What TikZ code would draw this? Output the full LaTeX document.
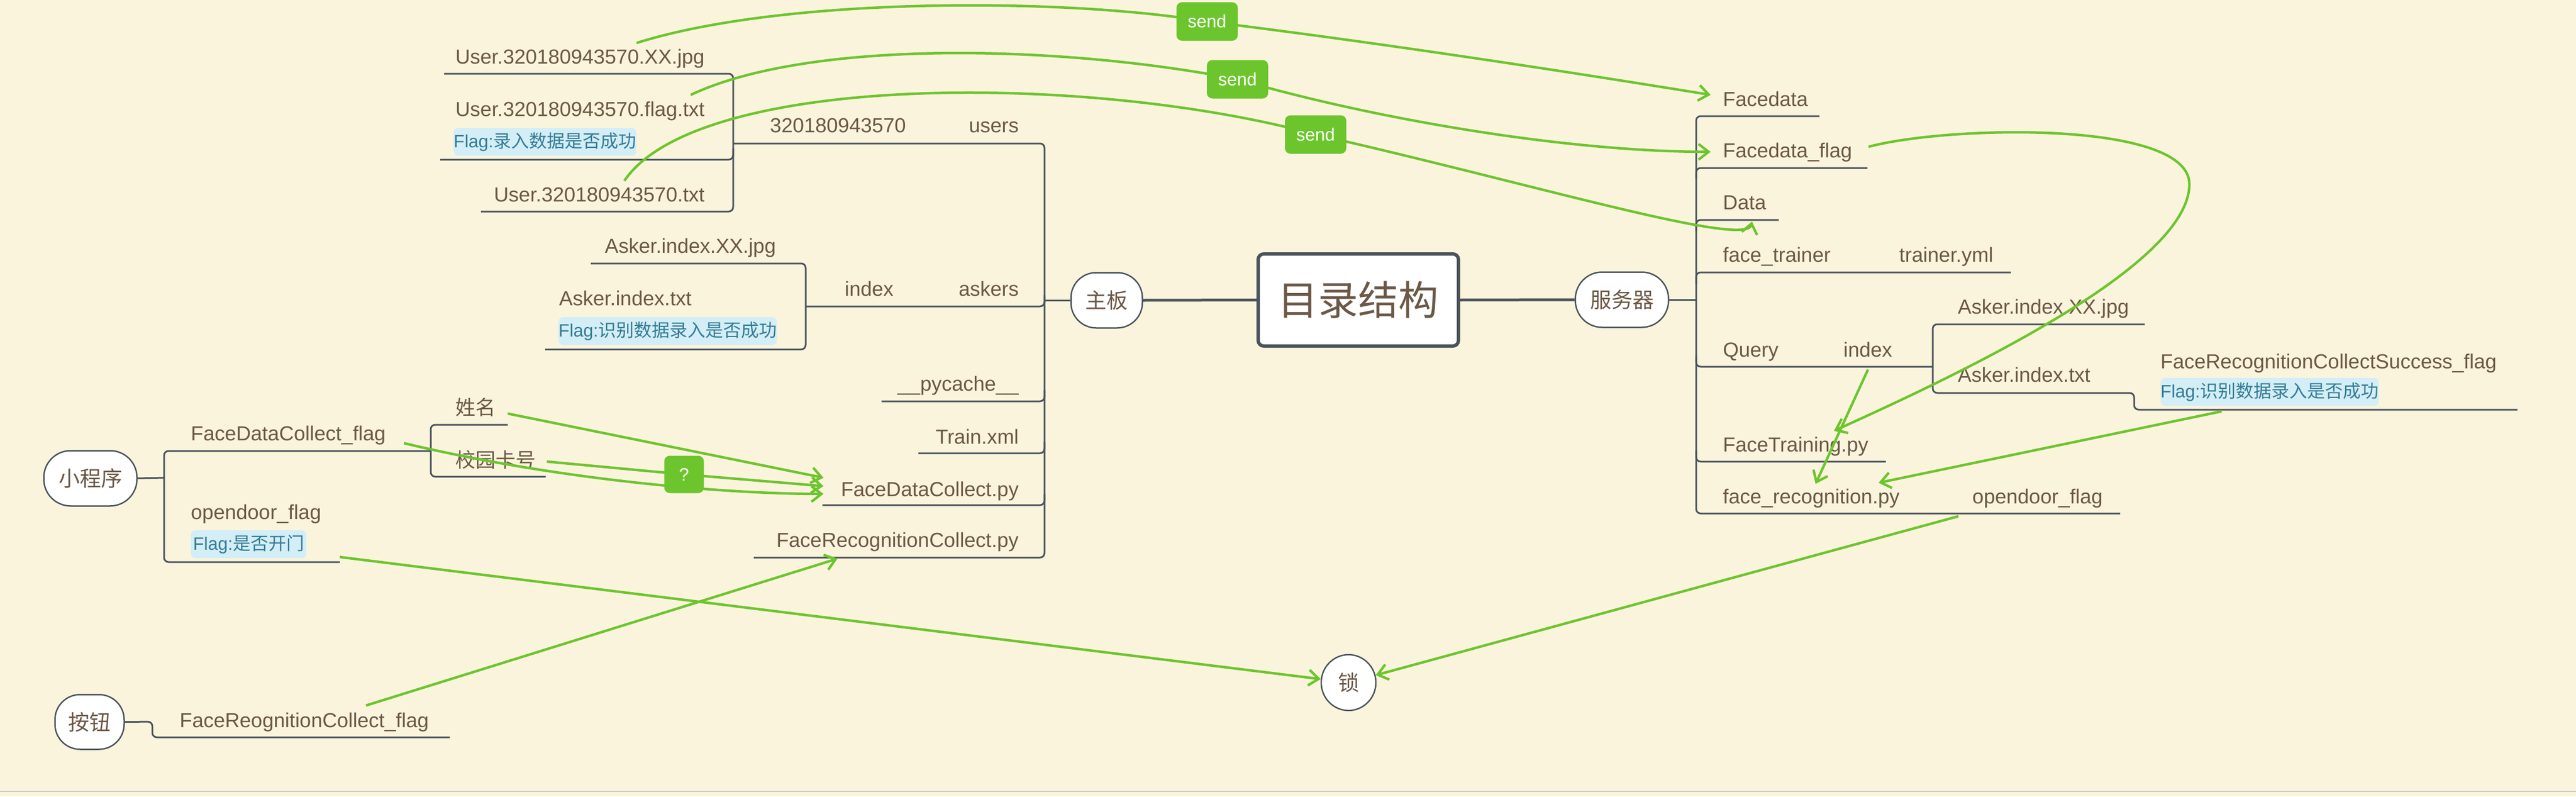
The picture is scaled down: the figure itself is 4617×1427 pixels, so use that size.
\documentclass[tikz,border=0pt]{standalone}
\usepackage{fontspec}
\setmainfont{Liberation Sans}
\newfontfamily\cjk{Noto Sans CJK SC}
\usetikzlibrary{arrows.meta,shapes.geometric}
\definecolor{bgc}{HTML}{FBF4DD}
\definecolor{txtc}{HTML}{6B5846}
\definecolor{lnc}{HTML}{4A535C}
\definecolor{grnc}{HTML}{6DC52E}
\definecolor{flagbgc}{HTML}{D3EEF6}
\definecolor{flagtxc}{HTML}{357C95}
\begin{document}
\begin{tikzpicture}[x=1pt,y=-1pt,
  lbl/.style={inner sep=0pt, text=txtc, font=\fontsize{36.5}{40}\selectfont},
  lw/.style={lbl, anchor=base west},
  le/.style={lbl, anchor=base east},
  flagbox/.style={anchor=north west, fill=flagbgc, text=flagtxc, rounded corners=8pt, inner sep=0pt, minimum height=50pt, font=\fontsize{32}{35}\selectfont},
  tree/.style={draw=lnc, line width=3pt, rounded corners=8pt},
  thickln/.style={draw=lnc, line width=5pt},
  rel/.style={draw=grnc, line width=4.5pt, -{Straight Barb[length=18pt,width=28pt]}},
  relbox/.style={fill=grnc, text=white, rounded corners=10pt, font=\fontsize{32}{36}\selectfont, minimum width=110pt, minimum height=69pt, inner sep=0pt},
  pill/.style={draw=lnc, line width=2.5pt, fill=white, text=txtc, font=\cjk\fontsize{38}{42}\selectfont, inner sep=0pt},
  rootbox/.style={draw=lnc, line width=6pt, fill=white, rounded corners=10pt, minimum width=359pt, minimum height=165pt, text=txtc, font=\cjk\fontsize{72}{80}\selectfont, inner sep=0pt}
]
\useasboundingbox (0,0) rectangle (4617,1427);
\fill[bgc] (0,0) rectangle (4617,1427);
\draw[black!22, line width=2pt] (0,1418) -- (4617,1418);

% main nodes
\node[rootbox] (root) at (2434.5,537.5) {目录结构};
\node[pill, minimum width=128pt, minimum height=99pt, rounded corners=45pt] (zb) at (1983.5,538) {主板};
\node[pill, minimum width=167pt, minimum height=99pt, rounded corners=48pt] (fwq) at (2907,537) {服务器};
\node[pill, minimum width=167pt, minimum height=99pt, rounded corners=48pt] (xcx) at (162,857) {小程序};
\node[pill, minimum width=124pt, minimum height=98pt, rounded corners=45pt] (an) at (160.5,1293.5) {按钮};
\node[pill, ellipse, minimum width=98pt, minimum height=100pt] (suo) at (2417,1223) {锁};

\draw[thickln] (zb.east) -- (root.west);
\draw[thickln] (root.east) -- (fwq.west);

% tree lines: zhuban side
\draw[tree] (zb.west) -- (1872,538);
\draw[tree] (1314,257) -- (1872,257) -- (1872,999) -- (1351,999);
\draw[tree] (1444,549) -- (1872,549) -- (1872,529);
\draw[tree] (1580,719) -- (1872,719) -- (1872,699);
\draw[tree] (1646,812) -- (1872,812) -- (1872,792);
\draw[tree] (1474,905) -- (1872,905) -- (1872,885);
\draw[tree] (796,132) -- (1314,132) -- (1314,379) -- (862,379);
\draw[tree] (789,286) -- (1314,286) -- (1314,266);
\draw[tree] (1059,472) -- (1444,472) -- (1444,626) -- (977,626);
% server side
\draw[tree] (fwq.east) -- (3040,537);
\draw[tree] (3261,208) -- (3040,208) -- (3040,920) -- (3800,920);
\draw[tree] (3347,301) -- (3040,301) -- (3040,321);
\draw[tree] (3188,394) -- (3040,394) -- (3040,414);
\draw[tree] (3604,488) -- (3040,488) -- (3040,508);
\draw[tree] (3464,657) -- (3040,657) -- (3040,637);
\draw[tree] (3380,827) -- (3040,827) -- (3040,807);
\draw[tree] (3844,581) -- (3464,581) -- (3464,704) -- (3825,704) -- (3825,734) -- (4512,734);
% xiaochengxu
\draw[tree] (xcx.east) -- (294,856);
\draw[tree] (772,808) -- (294,808) -- (294,1007) -- (609,1007);
\draw[tree] (910,761) -- (772,761) -- (772,854) -- (978,854);
% anniu
\draw[tree] (an.east) -- (273,1293) -- (273,1321) -- (806,1321);

% texts left (zhuban)
\node[le] (ujpg) at (1263,114) {User.320180943570.XX.jpg};
\node[le] (uflag) at (1263,208) {User.320180943570.flag.txt};
\node[flagbox, minimum width=325pt] (uflagnote) at (813,229) {Flag:{\cjk 录入数据是否成功}};
\node[le] (utxt) at (1263,361) {User.320180943570.txt};
\node[lw] (uid) at (1380,237) {320180943570};
\node[le] (users) at (1826,237) {users};
\node[lw] (ajpg) at (1084,453) {Asker.index.XX.jpg};
\node[lw] (atxt) at (1002,547) {Asker.index.txt};
\node[flagbox, minimum width=387pt] (atxtnote) at (1001,568) {Flag:{\cjk 识别数据录入是否成功}};
\node[lw] (aidx) at (1514,530) {index};
\node[le] (askers) at (1826,530) {askers};
\node[le] (pyc) at (1826,700) {\_\_pycache\_\_};
\node[le] (train) at (1826,795) {Train.xml};
\node[le] (fdc) at (1826,889) {FaceDataCollect.py};
\node[le] (frc) at (1826,980) {FaceRecognitionCollect.py};

% texts right (server)
\node[lw] (fd) at (3088,190) {Facedata};
\node[lw] (fdf) at (3088,282) {Facedata\_flag};
\node[lw] (dat) at (3088,375) {Data};
\node[lw] (ftr) at (3088,469) {face\_trainer};
\node[lw] (tyml) at (3404,469) {trainer.yml};
\node[lw] (qry) at (3088,639) {Query};
\node[lw] (qidx) at (3304,639) {index};
\node[lw] (qjpg) at (3509,562) {Asker.index.XX.jpg};
\node[lw] (qtxt) at (3509,684) {Asker.index.txt};
\node[lw] (frcs) at (3872,660) {FaceRecognitionCollectSuccess\_flag};
\node[flagbox, minimum width=388pt] (frcsnote) at (3872,677) {Flag:{\cjk 识别数据录入是否成功}};
\node[lw] (ftp) at (3088,809) {FaceTraining.py};
\node[lw] (frp) at (3088,902) {face\_recognition.py};
\node[lw] (odf) at (3535,902) {opendoor\_flag};

% texts xiaochengxu / anniu
\node[lw] (fdcf) at (342,789) {FaceDataCollect\_flag};
\node[lw, font=\cjk\fontsize{36}{40}\selectfont] (xm) at (816,743) {姓名};
\node[lw, font=\cjk\fontsize{36}{40}\selectfont] (xykh) at (816,837) {校园卡号};
\node[lw] (odf2) at (342,930) {opendoor\_flag};
\node[flagbox, minimum width=207pt] (odfnote) at (342,950) {Flag:{\cjk 是否开门}};
\node[lw] (frcf) at (322,1303) {FaceReognitionCollect\_flag};

% relationship anchors
\coordinate (g1s) at (1141,77);   \coordinate (s1) at (2163.5,38.5); \coordinate (g1e) at (3066,170);
\coordinate (g2s) at (1238,170);  \coordinate (s2) at (2218,142);    \coordinate (g2e) at (3066,272);
\coordinate (g3s) at (1119,324);  \coordinate (s3) at (2358,241);    \coordinate (g3e) at (3140,397);
\coordinate (g4s) at (3349,263);  \coordinate (g4m) at (3924,330);   \coordinate (g4e) at (3287,772);
\coordinate (g5s) at (3348,662);  \coordinate (g5e) at (3254,867);
\coordinate (g6s) at (3982,737);  \coordinate (g6e) at (3367,865);
\coordinate (g7s) at (3510,925);
\coordinate (g8s) at (609,998);
\coordinate (g9s) at (656,1264);  \coordinate (g9e) at (1501,1001);
\coordinate (g10s) at (910,741);  \coordinate (g10e) at (1476,856);
\coordinate (g11s) at (980,827);  \coordinate (qm) at (1226,850);    \coordinate (g11e) at (1476,871);
\coordinate (g12s) at (724,794);  \coordinate (g12e) at (1476,885);

\draw[rel] (g1s) .. controls (1400,-5) and (1900,-5) .. (s1) .. controls (2500,80) and (2850,135) .. (g1e);
\draw[rel] (g2s) .. controls (1450,70) and (1900,80) .. (s2) .. controls (2450,210) and (2800,272) .. (g2e);
\draw[rel] (g3s) .. controls (1250,130) and (1950,130) .. (s3) .. controls (2750,330) and (3130,445) .. (g3e);
\draw[rel] (g4s) .. controls (3490,225) and (3924,215) .. (g4m) .. controls (3924,480) and (3490,680) .. (g4e);
\draw[rel] (g5s) -- (g5e);
\draw[rel] (g6s) -- (g6e);
\draw[rel] (g7s) -- (suo);
\draw[rel] (g8s) -- (suo);
\draw[rel] (g9s) -- (g9e);
\draw[rel] (g10s) -- (g10e);
\draw[rel] (g11s) -- (qm) -- (g11e);
\draw[rel] (g12s) .. controls (1000,860) and (1300,885) .. (g12e);

\node[relbox] (send1) at (s1) {send};
\node[relbox] (send2) at (s2) {send};
\node[relbox] (send3) at (s3) {send};
\node[relbox, minimum width=71pt, minimum height=67pt] (qbox) at (qm) {?};
\end{tikzpicture}
\end{document}
